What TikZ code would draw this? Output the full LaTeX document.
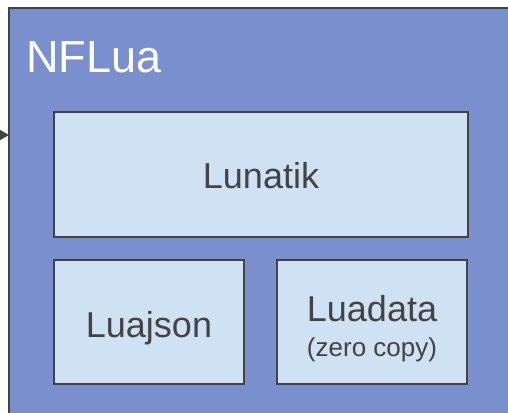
\documentclass[tikz,border=0pt]{standalone}
\usepackage{fontspec}
\setmainfont{Liberation Sans}
\usetikzlibrary{arrows.meta}
\definecolor{outerfill}{HTML}{7A90CE}
\definecolor{innerfill}{HTML}{CFE2F3}
\definecolor{edgegrey}{HTML}{434343}
\tikzset{
  outerbox/.style={draw=edgegrey, line width=2pt, fill=outerfill, rectangle, inner sep=0pt, anchor=north west},
  innerbox/.style={draw=edgegrey, line width=2pt, fill=innerfill, rectangle, inner sep=0pt},
  bigtxt/.style={text=edgegrey, font=\fontsize{36}{40}\selectfont, inner sep=0pt, anchor=base},
  smalltxt/.style={text=edgegrey, font=\fontsize{26}{30}\selectfont, inner sep=0pt, anchor=base},
  titletxt/.style={text=white, font=\fontsize{45}{50}\selectfont, inner sep=0pt, anchor=base west},
  link/.style={draw=edgegrey, line width=2pt, -{Triangle[length=10pt,width=11pt]}}
}
\begin{document}
\begin{tikzpicture}[x=1pt,y=-1pt]
\useasboundingbox (0,0) rectangle (508,412);
\begin{scope}
\clip (0,0) rectangle (508,412);
\node[outerbox, minimum width=530pt, minimum height=430pt] (outer) at (8,7) {};
\coordinate (src) at (-30,135);
\coordinate (tip) at (9,135);
\draw[link] (src) -- (tip);
\node[titletxt] (title) at (26,72) {NFLua};
\node[innerbox, minimum width=414pt, minimum height=125pt] (lunatik) at (261,174.5) {};
\node[bigtxt] (lunatiktxt) at (261,188) {Lunatik};
\node[innerbox, minimum width=190pt, minimum height=124pt] (luajson) at (149,322) {};
\node[bigtxt] (luajsontxt) at (149,337) {Luajson};
\node[innerbox, minimum width=190pt, minimum height=124pt] (luadata) at (372,322) {};
\node[bigtxt] (luadatatxt) at (372,321) {Luadata};
\node[smalltxt] (zerocopy) at (372,356) {(zero copy)};
\end{scope}
\end{tikzpicture}
\end{document}
